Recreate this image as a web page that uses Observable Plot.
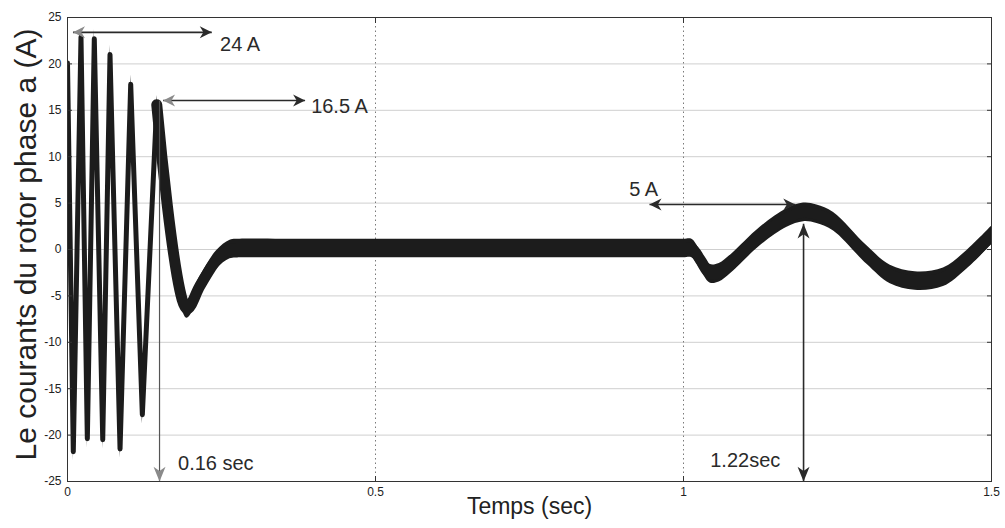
<!DOCTYPE html>
<html><head><meta charset="utf-8">
<script src="https://cdn.jsdelivr.net/npm/d3@7"></script>
<script src="https://cdn.jsdelivr.net/npm/@observablehq/plot@0.6"></script>
<style>
body{margin:0;background:#fff;}
#chart svg{font-family:"Liberation Sans",Arial,Helvetica,sans-serif;background:#fff;}
</style></head><body><div id="chart"></div>
<script>
// Rotor phase-a current: fast start-up spikes (drawn with straight segments)
const startTime    = [0, 0.0094, 0.0219, 0.0322, 0.0435, 0.0572, 0.069, 0.0853, 0.1026, 0.1215, 0.1449];
const startCurrent = [20.1, -21.8, 22.9, -20.4, 22.7, -20.5, 21.0, -21.5, 17.8, -17.8, 15.6];
// ...then the smooth part (steady state and the disturbance after 1 s)
const laterTime    = [0.1449, 0.1936, 0.2152, 0.2423, 0.2639, 0.28, 0.35, 0.5, 0.7, 0.9, 1.0, 1.0136, 1.0271, 1.043, 1.058, 1.078, 1.1245, 1.168, 1.195, 1.2166, 1.2436, 1.2978, 1.3357, 1.376, 1.422, 1.4602, 1.5];
const laterCurrent = [15.6, -6.4, -3.9, -1.1, 0.0, 0.1, 0.1, 0.1, 0.1, 0.1, 0.1, 0.1, -1.1, -2.6, -2.5, -1.5, 1.4, 3.4, 4.0, 3.8, 3.0, -0.6, -2.7, -3.4, -3.0, -1.1, 1.5];
const rippleHalf = 1.0; // half-height of the high-frequency ripple band (A)

const xTicks = [0, 0.5, 1, 1.5];
const yTicks = [-25, -20, -15, -10, -5, 0, 5, 10, 15, 20, 25];
const xGridLines = [0.5, 1];

// annotation arrows (data coordinates)
const arrowT1 = [0.0089, 0.1551, 0.1494, 0.9448, 1.1949];
const arrowV1 = [23.4, 16.06, 16.06, 4.85, 2.77];
const arrowT2 = [0.2342, 0.3857, 0.1494, 1.1814, 1.1949];
const arrowV2 = [23.4, 16.06, -25, 4.85, -25];
const arrowHeadAtStart = [true, true, false, true, true];
// annotation labels
const noteText = ["24 A", "16.5 A", "0.16 sec", "5 A", "1.22sec"];
const noteT = [0.2476, 0.3955, 0.1794, 0.9118, 1.0434];
const noteV = [22.1, 15.4, -23.1, 6.5, -22.7];

const yLabel = "Le courants du rotor phase a (A)";
const xLabel = "Temps (sec)";

// ---- build tables ----
const early = startTime.map((t, i) => ({t, v: startCurrent[i]}));
const later = laterTime.map((t, i) => ({t, v: laterCurrent[i]}));
const arrows = arrowT1.map((t, i) => ({t1: t, v1: arrowV1[i], t2: arrowT2[i], v2: arrowV2[i], i}));
const greyHeads = new Set(["0s", "1s", "2e"]);
const heads = [];
arrows.forEach(a => {
  const horiz = a.v1 === a.v2;
  heads.push({t: a.t2, v: a.v2, rot: horiz ? (a.t2 > a.t1 ? 90 : -90) : (a.v2 < a.v1 ? 180 : 0), key: a.i + "e"});
  if (arrowHeadAtStart[a.i]) heads.push({t: a.t1, v: a.v1, rot: horiz ? (a.t1 < a.t2 ? -90 : 90) : (a.v1 > a.v2 ? 0 : 180), key: a.i + "s"});
});
heads.forEach(h => { h.color = greyHeads.has(h.key) ? "#8a8a8a" : "#2a2a2a"; h.len = h.rot === 0 || h.rot === 180 ? 21 : 17; });
const notes = noteText.map((s, i) => ({s, t: noteT[i], v: noteV[i]}));

const headShape = {
  draw(ctx, l, r) {
    ctx.moveTo(0, -l);
    ctx.lineTo(r, 0);
    ctx.lineTo(0, -l * 0.3);
    ctx.lineTo(-r, 0);
    ctx.closePath();
  }
};

const ink = "#1c1c1c";
const chart = Plot.plot({
  width: 1005,
  height: 528,
  marginLeft: 67,
  marginRight: 14,
  marginTop: 17,
  marginBottom: 47,
  x: {domain: [0, 1.5]},
  y: {domain: [-25, 25]},
  marks: [
    Plot.gridY(yTicks, {stroke: "#cfcfcf", strokeOpacity: 1}),
    Plot.gridX(xGridLines, {stroke: "#7a7a7a", strokeOpacity: 1, strokeDasharray: "1.5,3"}),
    // ripple band + centre line
    Plot.areaY(early, {x: "t", y1: d => d.v - rippleHalf, y2: d => d.v + rippleHalf, fill: ink, curve: "linear", clip: true}),
    Plot.line(early, {x: "t", y: "v", stroke: ink, strokeWidth: 5, curve: "linear", clip: true}),
    Plot.areaY(later, {x: "t", y1: d => d.v - rippleHalf, y2: d => d.v + rippleHalf, fill: ink, curve: "catmull-rom", clip: true}),
    Plot.line(later, {x: "t", y: "v", stroke: ink, strokeWidth: 11, curve: "catmull-rom", clip: true}),
    // annotation arrows
    Plot.link(arrows, {x1: "t1", y1: "v1", x2: "t2", y2: "v2", stroke: d => d.i === 2 ? "#555" : "#2a2a2a", strokeWidth: d => d.i === 2 ? 1.2 : 1.6}),
    Plot.vector(heads, {x: "t", y: "v", rotate: "rot", length: "len", r: 6, anchor: "end", shape: headShape, fill: "color", stroke: "none"}),
    Plot.text(notes, {x: "t", y: "v", text: "s", textAnchor: "start", lineAnchor: "middle", fontSize: 20, fill: "#2a2a2a"}),
    // frame, ticks, labels
    Plot.frame({stroke: "#333"}),
    Plot.axisY(yTicks, {anchor: "left", tickSize: -5, tickFormat: () => "", stroke: "#333"}),
    Plot.axisY(yTicks, {anchor: "right", tickSize: -5, tickFormat: () => "", stroke: "#333"}),
    Plot.axisX(xTicks, {anchor: "bottom", tickSize: -5, tickFormat: () => "", stroke: "#333"}),
    Plot.axisX(xTicks, {anchor: "top", tickSize: -5, tickFormat: () => "", stroke: "#333"}),
    Plot.axisY(yTicks, {anchor: "left", tickSize: 0, tickPadding: 6, fontSize: 12, tickFormat: d => String(d), fill: "#222", label: null}),
    Plot.axisX(xTicks, {anchor: "bottom", tickSize: 0, tickPadding: 6, fontSize: 12, tickFormat: d => String(d), fill: "#222", label: null}),
    Plot.text([yLabel], {frameAnchor: "left", dx: -41, dy: -5, rotate: -90, fontSize: 30, fill: "#222", textAnchor: "middle"}),
    Plot.text([xLabel], {frameAnchor: "bottom", dy: 32, fontSize: 23, fill: "#222", textAnchor: "middle"})
  ]
});
document.getElementById("chart").appendChild(chart);
</script>
</body></html>
